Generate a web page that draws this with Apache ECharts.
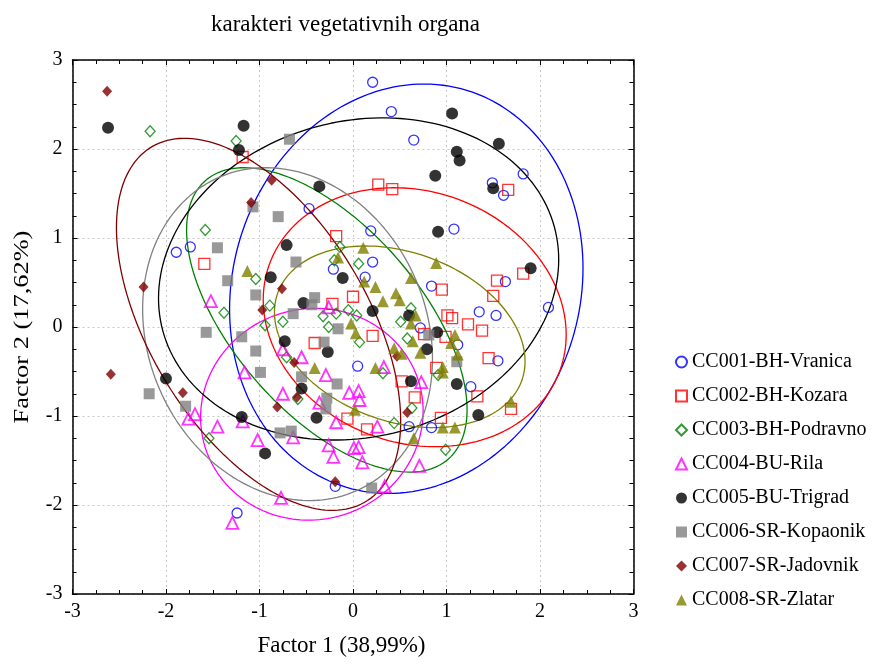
<!DOCTYPE html>
<html>
<head>
<meta charset="utf-8">
<script src="https://cdn.jsdelivr.net/npm/echarts@6/dist/echarts.min.js"></script>
<style>
html,body{margin:0;padding:0;background:#fff;}
#chart{width:895px;height:666px;}
</style>
</head>
<body>
<div id="chart"></div>
<script>
var groupNames = ['CC001-BH-Vranica','CC002-BH-Kozara','CC003-BH-Podravno','CC004-BU-Rila','CC005-BU-Trigrad','CC006-SR-Kopaonik','CC007-SR-Jadovnik','CC008-SR-Zlatar'];

var vranica = [[0.21,2.75],[0.41,2.42],[0.65,2.10],[-0.47,1.33],[0.19,1.08],[1.82,1.72],[1.49,1.62],[1.61,1.48],[1.08,1.10],[-1.89,0.84],[-1.74,0.90],[0.21,0.73],[0.13,0.56],[-0.21,0.65],[0.84,0.46],[0.05,-0.44],[0.72,-0.01],[1.63,0.51],[1.35,0.17],[1.53,0.13],[2.09,0.22],[1.12,-0.20],[1.55,-0.38],[1.26,-0.67],[-1.24,-2.09],[-0.19,-1.79],[0.60,-1.12],[0.84,-1.13]];
var kozara = [[-1.18,1.91],[0.27,1.60],[0.42,1.55],[-0.18,1.02],[1.66,1.54],[-1.59,0.71],[0.00,0.34],[-0.22,0.26],[-0.41,-0.18],[0.21,-0.10],[0.52,-0.61],[0.66,-0.79],[0.95,0.42],[1.01,0.13],[0.76,-0.08],[0.89,-0.46],[-0.06,-1.03],[0.94,-1.02],[1.54,0.52],[1.82,0.60],[1.50,0.35],[1.06,0.10],[1.23,0.03],[1.38,-0.04],[0.99,-0.11],[1.45,-0.35],[1.33,-0.78],[1.69,-0.92],[0.15,-1.15]];
var podravno = [[-2.17,2.20],[-1.25,2.09],[-1.58,1.09],[-1.04,0.54],[-1.38,0.16],[-0.14,0.90],[0.06,0.71],[-0.20,0.75],[-0.89,0.24],[-0.94,0.02],[-0.75,0.06],[-0.32,0.12],[-0.18,0.15],[-0.05,0.19],[0.04,0.13],[-0.26,0.00],[0.07,-0.17],[-0.71,-0.34],[-0.59,-0.81],[0.51,0.06],[0.62,0.21],[0.58,-0.13],[0.32,-0.52],[0.63,-0.91],[0.91,-0.54],[0.44,-1.08],[0.99,-1.38],[-1.54,-1.25]];
var rila = [[-1.52,0.29],[-1.16,-0.51],[-1.76,-1.03],[-1.69,-0.98],[-0.26,0.22],[-0.75,-0.25],[-0.55,-0.34],[-0.29,-0.54],[0.33,-0.45],[0.73,-0.62],[-0.75,-0.75],[-0.36,-0.85],[-0.04,-0.74],[0.06,-0.72],[0.07,-0.82],[-0.18,-1.07],[-1.45,-1.12],[-1.02,-1.27],[-1.29,-2.20],[0.26,-1.12],[-0.64,-1.24],[-0.26,-1.33],[-0.21,-1.46],[0.01,-1.36],[0.06,-1.35],[0.10,-1.52],[0.71,-1.56],[0.34,-1.79],[-0.77,-1.92],[-1.18,-1.06]];
var trigrad = [[-2.62,2.24],[-1.17,2.26],[-1.22,1.99],[-0.36,1.58],[0.88,1.70],[0.91,1.07],[-0.71,0.92],[1.06,2.40],[1.56,2.06],[1.11,1.97],[1.14,1.87],[1.50,1.56],[-2.00,-0.58],[-1.19,-1.01],[-0.88,0.56],[-0.11,0.55],[-0.53,0.27],[0.21,0.18],[-0.73,-0.16],[-0.27,-0.28],[0.60,0.13],[0.90,-0.06],[0.79,-0.25],[0.62,-0.61],[-0.55,-0.69],[-0.39,-1.02],[1.90,0.66],[1.11,-0.64],[1.34,-0.99],[-0.94,-1.42]];
var kopaonik = [[-1.07,1.35],[-0.68,2.11],[-0.80,1.24],[-1.45,0.89],[-1.34,0.52],[-1.04,0.36],[-1.57,-0.06],[-1.19,-0.11],[-1.04,-0.27],[-0.99,-0.51],[-2.18,-0.75],[-1.79,-0.89],[-0.61,0.73],[-0.41,0.33],[-0.44,0.25],[-0.64,0.15],[-0.16,-0.02],[-0.31,-0.17],[-0.55,-0.56],[-0.17,-0.64],[-0.28,-0.80],[-0.29,-0.92],[0.81,-0.09],[1.11,-0.39],[-0.78,-1.19],[-0.66,-1.17],[0.20,-1.81]];
var jadovnik = [[-2.63,2.65],[-1.09,1.40],[-0.87,1.65],[-2.24,0.45],[-2.59,-0.53],[-1.82,-0.74],[-0.76,0.43],[-0.97,0.19],[-0.63,-0.40],[-0.81,-0.90],[-0.60,-0.79],[0.58,-0.96],[-0.19,-1.74],[0.47,-0.33]];
var zlatar = [[-1.13,0.63],[0.11,0.89],[-0.16,0.78],[0.89,0.72],[0.62,0.55],[0.12,0.51],[0.24,0.45],[0.32,0.29],[0.46,0.38],[0.50,0.30],[-0.02,0.04],[0.03,-0.07],[0.67,0.13],[0.62,0.04],[0.64,-0.16],[0.44,-0.24],[0.52,-0.30],[0.72,-0.29],[0.24,-0.46],[-0.41,-0.46],[0.02,-0.93],[0.96,-0.45],[1.09,-0.09],[1.05,-0.18],[1.12,-0.31],[0.96,-0.51],[1.69,-0.84],[0.96,-1.13],[1.09,-1.13],[0.65,-1.25]];

// ellipse parameters: [centerX, centerY, halfWidth, halfHeight, correlation]
var ellVranica  = [0.57, 0.43, 1.89, 2.30, 0.10];
var ellKozara   = [0.66, 0.11, 1.62, 1.455, -0.135];
var ellPodravno = [-0.28, 0.08, 1.50, 1.71, -0.59];
var ellRila     = [-0.44, -0.98, 1.19, 1.19, 0.03];
var ellTrigrad  = [0.06, 0.54, 2.14, 1.81, 0.12];
var ellKopaonik = [-0.70, -0.08, 1.55, 1.87, -0.15];
var ellJadovnik = [-1.01, 0.03, 1.52, 2.09, -0.52];
var ellZlatar   = [0.50, -0.11, 1.34, 1.02, -0.27];

var tickValues = [-3,-2,-1,0,1,2,3];
var titleText = 'karakteri vegetativnih organa';
var xTitle = 'Factor 1 (38,99%)';
var yTitle = 'Factor 2 (17,62%)';

var groups = [vranica,kozara,podravno,rila,trigrad,kopaonik,jadovnik,zlatar];
var ellipses = [ellVranica,ellKozara,ellPodravno,ellRila,ellTrigrad,ellKopaonik,ellJadovnik,ellZlatar];
var colors = ['#0000ff','#ff0000','#008000','#ff00ff','#000000','#808080','#800000','#808000'];
var symbols = ['circle','rect','diamond','triangle','circle','rect','diamond','triangle'];
var filled = [false,false,false,false,true,true,true,true];
var sizes = [10,11,[10,11],12,12,11,[10,11],12];

function ellipsePts(p){
  var pts=[], n=180;
  var s=Math.sqrt(1-p[4]*p[4]);
  for(var i=0;i<=n;i++){
    var t=2*Math.PI*i/n;
    pts.push([p[0]+p[2]*Math.cos(t), p[1]+p[3]*(p[4]*Math.cos(t)+s*Math.sin(t))]);
  }
  return pts;
}

var FONT = '"Liberation Serif","Times New Roman",serif';
var series = [];
ellipses.forEach(function(p,i){
  series.push({type:'line', name:'ell'+i, data:ellipsePts(p), showSymbol:false, symbol:'none', smooth:false,
    lineStyle:{color:colors[i], width:1.3}, silent:true, z:1, animation:false});
});
groups.forEach(function(g,i){
  series.push({type:'scatter', name:groupNames[i], data:g, symbol:symbols[i], symbolSize:sizes[i], z:3, animation:false,
    itemStyle: filled[i] ? {color:colors[i], borderWidth:0} : {color:'rgba(255,255,255,0)', borderColor:colors[i], borderWidth:(i===3?1.8:1.3)}});
});

function axisCommon(){
  return {type:'value', min:-3, max:3, interval:1,
    axisLine:{show:true, onZero:false, lineStyle:{color:'#000', width:1.5}},
    axisTick:{show:true, inside:true, length:5, lineStyle:{color:'#000'}},
    minorTick:{show:true, splitNumber:4, length:4, lineStyle:{color:'#000'}},
  };
}
function lbl(v){return tickValues.indexOf(v)>=0?String(v):'';}
var xb = axisCommon(); xb.position='bottom'; xb.name=xTitle; xb.nameLocation='middle'; xb.nameGap=40;
xb.nameTextStyle={fontFamily:FONT, fontSize:23, color:'#000', padding:[0,23,0,0]};
xb.axisLabel={fontFamily:FONT, fontSize:20, color:'#000', margin:8, formatter:lbl};
xb.splitLine={show:true, lineStyle:{color:'#c8c8c8', type:[2,3], width:1}};
var xt = axisCommon(); xt.position='top'; xt.axisLabel={show:false}; xt.splitLine={show:false};
var yl = axisCommon(); yl.position='left';
yl.axisLabel={fontFamily:FONT, fontSize:20, color:'#000', margin:10, formatter:lbl};
yl.splitLine={show:true, lineStyle:{color:'#c8c8c8', type:[2,3], width:1}};
var yr = axisCommon(); yr.position='right'; yr.axisLabel={show:false}; yr.splitLine={show:false};

var chart = echarts.init(document.getElementById('chart'), null, {renderer:'canvas'});
chart.setOption({
  backgroundColor:'#fff',
  animation:false,
  title:{text:titleText, left:206, top:8, textStyle:{fontFamily:FONT, fontSize:23, fontWeight:'normal', color:'#000'}},
  grid:{left:72.5, right:261.5, top:60, bottom:72},
  xAxis:[xb, xt],
  yAxis:[yl, yr],
  graphic:[{type:'text', x:22, y:327, rotation:Math.PI/2, scaleX:1.2, scaleY:1.0,
    style:{text:yTitle, font:'22px "Liberation Serif", serif', fill:'#000', align:'center', verticalAlign:'middle'}}],
  legend:{data:groupNames, orient:'vertical', left:670, top:347, itemWidth:11, itemHeight:11, itemGap:14,
    textStyle:{fontFamily:FONT, fontSize:20, color:'#000', lineHeight:20}},
  series:series
});
</script>
</body>
</html>
